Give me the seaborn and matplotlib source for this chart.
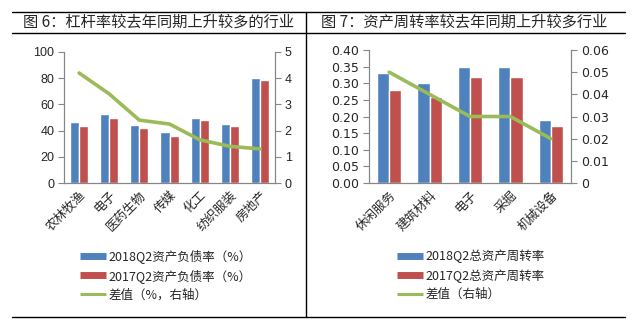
import numpy as np
import pandas as pd
import matplotlib
matplotlib.use("Agg")
import matplotlib.pyplot as plt
from matplotlib.lines import Line2D
import seaborn as sns

sns.set_theme(style="white")
plt.rcParams['font.family'] = ['Noto Sans CJK SC', 'DejaVu Sans']

# ---- data ----
left_title = "图 6：杠杆率较去年同期上升较多的行业"
left_cats = ["农林牧渔", "电子", "医药生物", "传媒", "化工", "纺织服装", "房地产"]
left_2018 = [46.8, 52.8, 44.6, 38.6, 49.8, 45.2, 80.5]
left_2017 = [43.2, 49.8, 42.2, 36.2, 48.3, 43.8, 78.9]
left_diff = [4.2, 3.4, 2.4, 2.25, 1.65, 1.4, 1.3]
left_labels = ["2018Q2资产负债率（%）", "2017Q2资产负债率（%）", "差值（%，右轴）"]

right_title = "图 7：资产周转率较去年同期上升较多行业"
right_cats = ["休闲服务", "建筑材料", "电子", "采掘", "机械设备"]
right_2018 = [0.33, 0.30, 0.35, 0.35, 0.19]
right_2017 = [0.28, 0.26, 0.32, 0.32, 0.17]
right_diff = [0.05, 0.04, 0.03, 0.03, 0.02]
right_labels = ["2018Q2总资产周转率", "2017Q2总资产周转率", "差值（右轴）"]

BLUE = "#4F81BD"
RED = "#C0504D"
GREEN = "#9BBB59"
SPINE = "#868686"

W, H = 637, 328
fig = plt.figure(figsize=(W / 100, H / 100), dpi=100)


def px_axes(x0, y0, x1, y1):
    return fig.add_axes([x0 / W, 1 - y1 / H, (x1 - x0) / W, (y1 - y0) / H])


def panel(box, cats, v18, v17, diff, labels, yl, yr, lfmt, rfmt, numfont, legend_xy):
    ax = px_axes(*box)
    df = pd.DataFrame({
        "cat": cats * 2,
        "val": list(v18) + list(v17),
        "series": [labels[0]] * len(cats) + [labels[1]] * len(cats),
    })
    sns.barplot(data=df, x="cat", y="val", hue="series", palette=[BLUE, RED],
                width=0.6, gap=0, saturation=1, legend=False, ax=ax, errorbar=None)
    n = len(cats)
    ax.set_xlim(-0.5, n - 0.5)
    ax.set_ylim(yl[0], yl[-1])
    ax.set_yticks(yl)
    ax.set_yticklabels([lfmt(v) for v in yl], fontsize=9, family=numfont)
    ax.set_xlabel("")
    ax.set_ylabel("")
    ax.set_xticks(range(n))
    ax.set_xticklabels(cats, rotation=45, ha="right", rotation_mode="anchor", fontsize=9)
    ax.tick_params(axis="x", which="major", length=0, pad=4)
    ax.set_xticks(np.arange(-0.5, n, 1.0), minor=True)
    ax.tick_params(axis="x", which="minor", length=4, direction="out", color=SPINE, width=0.8)
    ax.tick_params(axis="y", length=4, direction="out", color=SPINE, width=0.8, pad=3, left=True)

    ax2 = ax.twinx()
    sns.lineplot(x=np.arange(n), y=diff, color=GREEN, lw=2.6, ax=ax2)
    ax2.set_ylim(yr[0], yr[-1])
    ax2.set_yticks(yr)
    ax2.set_yticklabels([rfmt(v) for v in yr], fontsize=9, family=numfont)
    ax2.tick_params(axis="y", length=4, direction="out", color=SPINE, width=0.8, pad=3, right=True)
    ax2.set_xlim(-0.5, n - 0.5)
    for a in (ax, ax2):
        a.spines["top"].set_visible(False)
        for s in ("left", "right", "bottom"):
            a.spines[s].set_color(SPINE)
            a.spines[s].set_linewidth(0.8)
        a.grid(False)

    handles = [Line2D([], [], color=BLUE, lw=5, solid_capstyle="butt"),
               Line2D([], [], color=RED, lw=5, solid_capstyle="butt"),
               Line2D([], [], color=GREEN, lw=2.2, solid_capstyle="butt")]
    fig.legend(handles, labels, loc="upper left",
               bbox_to_anchor=(legend_xy[0] / W, 1 - legend_xy[1] / H),
               frameon=False, fontsize=9, handlelength=2.1, handletextpad=0.2,
               labelspacing=0.45, borderpad=0, borderaxespad=0)
    return ax


panel((64, 52, 275, 183), left_cats, left_2018, left_2017, left_diff, left_labels,
      [0, 20, 40, 60, 80, 100], [0, 1, 2, 3, 4, 5],
      lambda v: f"{v:g}", lambda v: f"{v:g}", "Liberation Sans", (80, 249))

panel((369, 50, 571, 183), right_cats, right_2018, right_2017, right_diff, right_labels,
      [0, 0.05, 0.10, 0.15, 0.20, 0.25, 0.30, 0.35, 0.40],
      [0, 0.01, 0.02, 0.03, 0.04, 0.05, 0.06],
      lambda v: f"{v:.2f}", lambda v: "0" if v == 0 else f"{v:.2f}", "DejaVu Sans", (397, 250))

# frame lines and titles
def hline(y, x0, x1, lw=1.0):
    fig.add_artist(Line2D([x0 / W, x1 / W], [1 - y / H, 1 - y / H], color="black", lw=lw))

def vline(x, y0, y1, lw=1.0):
    fig.add_artist(Line2D([x / W, x / W], [1 - y0 / H, 1 - y1 / H], color="black", lw=lw))

hline(12, 12, 625)
hline(33, 12, 625)
hline(317, 12, 625)
vline(306, 12, 317)

fig.text(23 / W, 1 - 22.5 / H, left_title, fontsize=11, va="center", ha="left")
fig.text(321 / W, 1 - 22.5 / H, right_title, fontsize=11, va="center", ha="left")

fig.savefig("out.png", dpi=100)
